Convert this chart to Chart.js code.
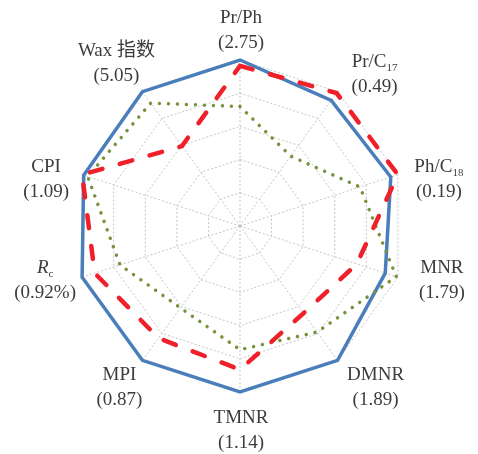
<!DOCTYPE html>
<html>
<head>
<meta charset="utf-8">
<script src="https://cdn.jsdelivr.net/npm/chart.js@4"></script>
<style>
  body { margin: 0; background: #fff; }
  #chart { display: block; }
</style>
</head>
<body>
<canvas id="chart" width="478" height="454"></canvas>
<script>
// axis names ('_' starts a subscript, '*' marks italic) and their values
const categories = ['Pr/Ph', 'Pr/C_17', 'Ph/C_18', 'MNR', 'DMNR', 'TMNR', 'MPI', '*R*_c', 'CPI', 'Wax 指数'];
const axisValues = ['(2.75)', '(0.49)', '(0.19)', '(1.79)', '(1.89)', '(1.14)', '(0.87)', '(0.92%)', '(1.09)', '(5.05)'];

// normalised values
const seriesBlue = [1.0, 0.935, 0.955, 0.92, 1.0, 1.0, 1.0, 1.0, 0.99, 1.0];
const seriesRed = [0.965, 0.99, 1.0, 0.74, 0.65, 0.865, 0.835, 0.92, 1.0, 0.595];
const seriesGreen = [0.72, 0.52, 0.76, 0.99, 0.79, 0.745, 0.61, 0.76, 0.965, 0.915];

const rTicks = [0, 0.2, 0.4, 0.6, 0.8, 1.0];

// where each label block sits, relative to its outer vertex
const labelShift = [[1, -29], [37, -17], [41, 5], [44, 3], [38, 27], [1, 39], [-23, 27], [-37, 3], [-36, 5], [-26, -28]];

const textColor = '#3c3c3c';
const serif = '"Liberation Serif", "Noto Sans CJK SC", serif';

function runsOf(label) {
  let [main, sub] = label.split('_');
  let italic = false;
  if (main.startsWith('*')) {
    italic = true;
    main = main.replace(/\*/g, '');
  }
  let runs = [{ t: main, it: italic, sub: false }];
  if (sub) runs.push({ t: sub, it: false, sub: true });
  return runs;
}

function fontFor(run) {
  return (run.it ? 'italic ' : '') + (run.sub ? '11px ' : '19px ') + serif;
}

function drawRuns(ctx, runs, cx, cy) {
  let width = 0;
  runs.forEach((r) => {
    ctx.font = fontFor(r);
    width += ctx.measureText(r.t).width;
  });
  let x = cx - width / 2;
  runs.forEach((r) => {
    ctx.font = fontFor(r);
    ctx.fillText(r.t, x, r.sub ? cy + 6 : cy);
    x += ctx.measureText(r.t).width;
  });
}

const axisLabels = {
  id: 'axisLabels',
  afterDraw(chart) {
    const scale = chart.scales.r;
    const ctx = chart.ctx;
    ctx.save();
    ctx.fillStyle = textColor;
    ctx.textBaseline = 'middle';
    ctx.textAlign = 'left';
    categories.forEach((cat, i) => {
      const p = scale.getPointPosition(i, scale.drawingArea);
      const cx = p.x + labelShift[i][0];
      const cy = p.y + labelShift[i][1];
      drawRuns(ctx, runsOf(cat), cx, cy - 12.5);
      drawRuns(ctx, [{ t: axisValues[i], it: false, sub: false }], cx, cy + 12.5);
    });
    ctx.restore();
  }
};

const data = {
  labels: categories.map((c) => c.replace(/[_*]/g, '')),
  datasets: [
    {
      data: seriesRed,
      borderColor: '#f0202a',
      borderWidth: 4.5,
      borderDash: [13, 18],
      borderCapStyle: 'round',
      borderJoinStyle: 'miter',
      fill: false,
      pointRadius: 0,
    },
    {
      data: seriesGreen,
      borderColor: '#76923c',
      borderWidth: 3.5,
      borderDash: [0.01, 9],
      borderCapStyle: 'round',
      fill: false,
      pointRadius: 0,
    },
    {
      data: seriesBlue,
      borderColor: '#4a7ebb',
      borderWidth: 3.5,
      borderJoinStyle: 'miter',
      fill: false,
      pointRadius: 0,
    },
  ]
};

const config = {
  type: 'radar',
  data: data,
  options: {
    responsive: false,
    animation: false,
    devicePixelRatio: 1,
    layout: { padding: { left: 74, right: 72, top: 60, bottom: 62 } },
    plugins: { legend: { display: false }, tooltip: { enabled: false } },
    elements: { line: { tension: 0 } },
    scales: {
      r: {
        min: rTicks[0],
        max: rTicks[rTicks.length - 1],
        ticks: { display: false, stepSize: rTicks[1] - rTicks[0] },
        pointLabels: { display: false },
        grid: { color: '#c4c4c4', lineWidth: 1 },
        border: { dash: [2, 2] },
        angleLines: { color: '#c4c4c4', lineWidth: 1, borderDash: [2, 2] },
      }
    }
  },
  plugins: [axisLabels]
};

new Chart(document.getElementById('chart'), config);
</script>
</body>
</html>
